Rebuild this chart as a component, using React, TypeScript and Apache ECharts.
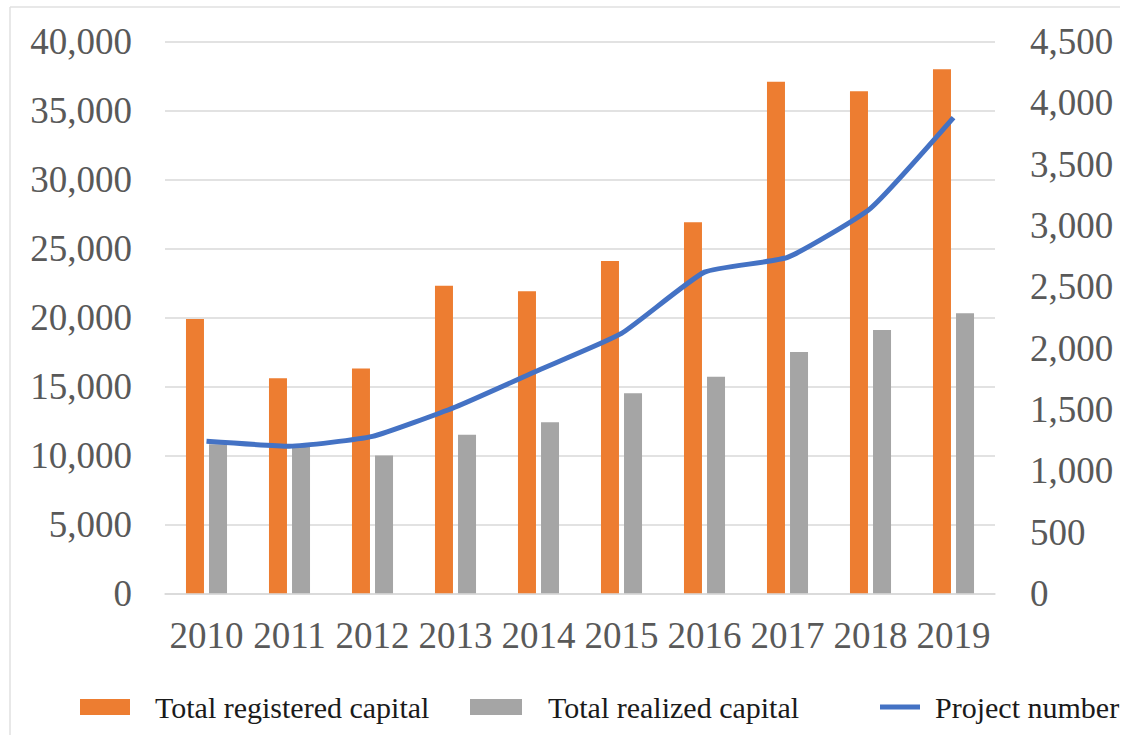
import React, { useEffect, useRef } from "react";
import * as echarts from "echarts";

const years = ["2010", "2011", "2012", "2013", "2014", "2015", "2016", "2017", "2018", "2019"];
const registeredCapital = [19900, 15600, 16300, 22300, 21900, 24100, 26900, 37100, 36400, 38000];
const realizedCapital = [10800, 10700, 10000, 11500, 12400, 14500, 15700, 17500, 19100, 20300];
const projectNumber = [1240, 1200, 1280, 1520, 1820, 2120, 2620, 2740, 3140, 3880];

const leftTicks = { min: 0, max: 40000, interval: 5000 };
const rightTicks = { min: 0, max: 4500, interval: 500 };

const FONT = "'Liberation Serif', 'Times New Roman', Times, serif";
const fmt = (v: number) => v.toLocaleString("en-US");

export default function App() {
  const ref = useRef<HTMLDivElement>(null);
  useEffect(() => {
    if (!ref.current) return;
    const chart = echarts.init(ref.current, null, { renderer: "svg" });
    const legendStyle = (padLeft: number) => ({
      fontFamily: FONT,
      fontSize: 30,
      color: "#1a1a1a",
      padding: [0, 0, 0, padLeft],
    });
    chart.setOption({
      animation: false,
      backgroundColor: "#ffffff",
      textStyle: { fontFamily: FONT },
      grid: { left: 165, right: 134, top: 41.7, bottom: 141.7, containLabel: false },
      xAxis: {
        type: "category",
        data: years,
        axisLine: { show: true, lineStyle: { color: "#d9d9d9", width: 1.5 } },
        axisTick: { show: false },
        axisLabel: { interval: 0, margin: 24, fontFamily: FONT, fontSize: 37, color: "#595959" },
      },
      yAxis: [
        {
          type: "value",
          ...leftTicks,
          axisLine: { show: false },
          axisTick: { show: false },
          splitLine: { show: true, lineStyle: { color: "#d9d9d9", width: 1.5 } },
          axisLabel: { margin: 33, fontFamily: FONT, fontSize: 37, color: "#595959", formatter: fmt },
        },
        {
          type: "value",
          ...rightTicks,
          position: "right",
          axisLine: { show: false },
          axisTick: { show: false },
          splitLine: { show: false },
          axisLabel: { margin: 35, fontFamily: FONT, fontSize: 37, color: "#595959", formatter: fmt },
        },
      ],
      legend: [
        {
          data: ["Total registered capital"],
          left: 80,
          top: 692,
          padding: 0,
          itemWidth: 50,
          itemHeight: 16,
          icon: "rect",
          textStyle: legendStyle(20),
        },
        {
          data: ["Total realized capital"],
          left: 470,
          top: 692,
          padding: 0,
          itemWidth: 52,
          itemHeight: 16,
          icon: "rect",
          textStyle: legendStyle(21),
        },
        {
          data: ["Project number"],
          left: 880,
          top: 692,
          padding: 0,
          itemWidth: 40,
          itemHeight: 5,
          icon: "rect",
          textStyle: legendStyle(10),
        },
      ],
      graphic: [
        { type: "line", shape: { x1: 10, y1: 7, x2: 1120, y2: 7 }, style: { stroke: "#e0e0e0", lineWidth: 1.5 } },
        { type: "line", shape: { x1: 10, y1: 7, x2: 10, y2: 735 }, style: { stroke: "#e0e0e0", lineWidth: 1.5 } },
      ],
      series: [
        {
          name: "Total registered capital",
          type: "bar",
          yAxisIndex: 0,
          data: registeredCapital,
          barWidth: 18,
          barGap: "28%",
          itemStyle: { color: "#ED7D31" },
        },
        {
          name: "Total realized capital",
          type: "bar",
          yAxisIndex: 0,
          data: realizedCapital,
          barWidth: 18,
          barGap: "28%",
          itemStyle: { color: "#A5A5A5" },
        },
        {
          name: "Project number",
          type: "line",
          yAxisIndex: 1,
          data: projectNumber,
          smooth: 0.15,
          showSymbol: false,
          symbol: "none",
          lineStyle: { color: "#4472C4", width: 5 },
          itemStyle: { color: "#4472C4" },
        },
      ],
    });
    return () => chart.dispose();
  }, []);
  return (
    <div
      ref={ref}
      style={{ position: "fixed", left: 0, top: 0, width: 1129, height: 735 }}
    />
  );
}
